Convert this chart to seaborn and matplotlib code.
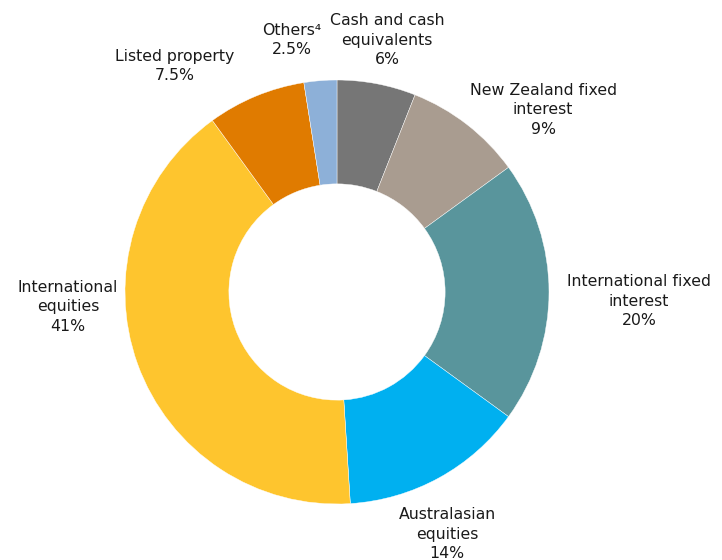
import matplotlib.pyplot as plt
import seaborn as sns

sns.set_theme(style="white")
plt.rcParams["font.family"] = ["DejaVu Sans"]

# asset allocation, clockwise from 12 o'clock
categories = [
    "Cash and cash\nequivalents",
    "New Zealand fixed\ninterest",
    "International fixed\ninterest",
    "Australasian\nequities",
    "International\nequities",
    "Listed property",
    "Others\u2074",
]
shares = [6, 9, 20, 14, 41, 7.5, 2.5]
share_labels = ["6%", "9%", "20%", "14%", "41%", "7.5%", "2.5%"]
colors = ["#767676", "#a99c90", "#59959c", "#00b0f0",
          "#fec52e", "#e07b00", "#8db0d8"]

# label centres in pixels (Excel-style placement)
label_px = [(387, 40), (543, 110), (639, 301), (447, 534),
            (68, 307), (175, 66), (292, 40)]

W, H = 722, 560
cx, cy, R = 337, 292, 212

fig = plt.figure(figsize=(W / 100, H / 100), dpi=100)
ax = fig.add_axes([0, 0, 1, 1])

wedges, _ = ax.pie(
    shares,
    colors=colors,
    startangle=90,
    counterclock=False,
    radius=1,
    wedgeprops=dict(width=0.49, edgecolor="white", linewidth=0.3),
)

for cat, lab, (px, py) in zip(categories, share_labels, label_px):
    ax.text((px - cx) / R, (cy - py) / R, cat + "\n" + lab,
            ha="center", va="center", fontsize=11.3, color="#1a1a1a",
            linespacing=1.38)

ax.set_xlim(-cx / R, (W - cx) / R)
ax.set_ylim(-(H - cy) / R, cy / R)
ax.set_aspect("equal")
ax.axis("off")

fig.savefig("out.png", dpi=100)
